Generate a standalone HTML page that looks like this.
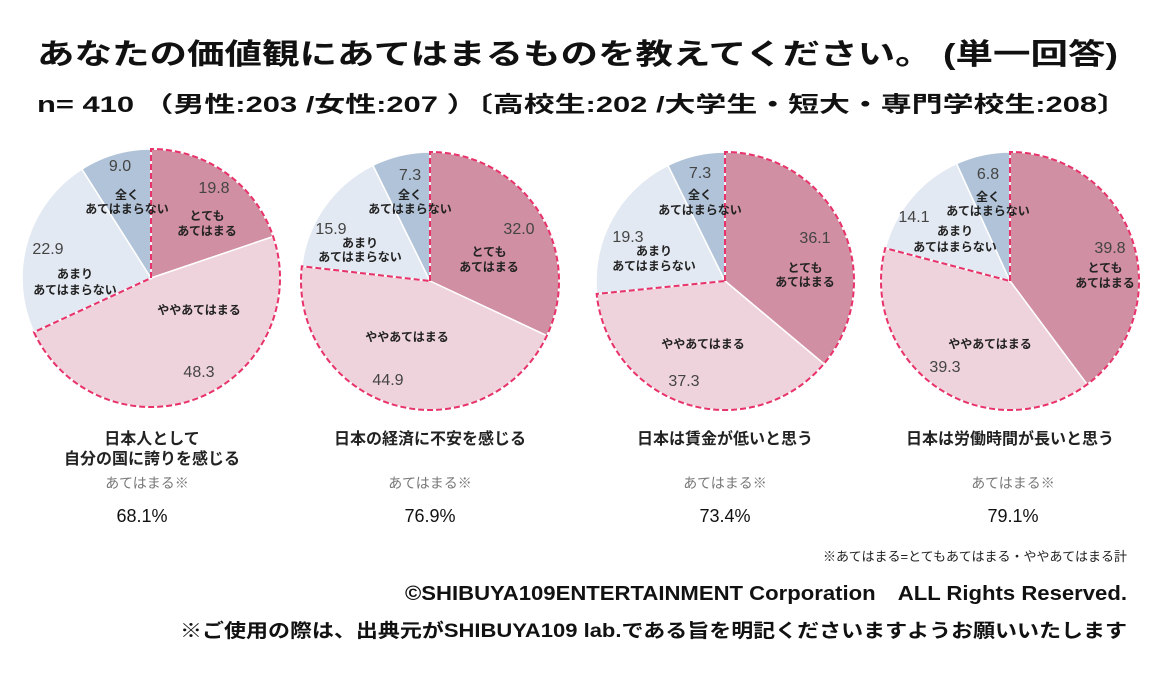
<!DOCTYPE html>
<html><head><meta charset="utf-8"><style>
body{margin:0;background:#fff}
svg text{font-family:"Liberation Sans","Noto Sans CJK JP",sans-serif}
</style></head><body>
<svg id="s" width="1160" height="690" xmlns="http://www.w3.org/2000/svg">
<rect width="1160" height="690" fill="#fff"/>
<text x="37" y="64" font-size="29" font-weight="bold" fill="#111" textLength="1081" lengthAdjust="spacingAndGlyphs">あなたの価値観にあてはまるものを教えてください。 (単一回答)</text>
<text x="37" y="112" font-size="22" font-weight="bold" fill="#111" textLength="1091" lengthAdjust="spacingAndGlyphs">n= 410 （男性:203 /女性:207 ）〔高校生:202 /大学生・短大・専門学校生:208〕</text>
<g id="pies"></g>
<g font-weight="bold" fill="#222" font-size="16" text-anchor="middle">
<text x="152" y="444">日本人として</text><text x="152" y="464">自分の国に誇りを感じる</text>
<text x="430" y="444">日本の経済に不安を感じる</text>
<text x="725" y="444">日本は賃金が低いと思う</text>
<text x="1010" y="444">日本は労働時間が長いと思う</text>
</g>
<g fill="#777" font-size="14" text-anchor="middle">
<text x="147" y="488">あてはまる※</text><text x="430" y="488">あてはまる※</text><text x="725" y="488">あてはまる※</text><text x="1013" y="488">あてはまる※</text>
</g>
<g fill="#111" font-size="18" text-anchor="middle">
<text x="142" y="522">68.1%</text><text x="430" y="522">76.9%</text><text x="725" y="522">73.4%</text><text x="1013" y="522">79.1%</text>
</g>
<text x="1127" y="561" font-size="13" fill="#222" text-anchor="end">※あてはまる=とてもあてはまる・ややあてはまる計</text>
<text x="1127" y="600" font-size="20" font-weight="bold" fill="#111" text-anchor="end" textLength="722" lengthAdjust="spacingAndGlyphs">©SHIBUYA109ENTERTAINMENT Corporation　ALL Rights Reserved.</text>
<text x="1127" y="637" font-size="19" font-weight="bold" fill="#111" text-anchor="end" textLength="947" lengthAdjust="spacingAndGlyphs">※ご使用の際は、出典元がSHIBUYA109 lab.である旨を明記くださいますようお願いいたします</text>
</svg>
<script>
var pies=[
 {cx:151,cy:278,v:[19.8,48.3,22.9,9.0],L:[[120,171,'9.0',1],[127,199,'全く',0],[127,213,'あてはまらない',0],[214,193,'19.8',1],[207,220,'とても',0],[207,235,'あてはまる',0],[48,254,'22.9',1],[75,278,'あまり',0],[75,294,'あてはまらない',0],[199,314,'ややあてはまる',0],[199,377,'48.3',1]]},
 {cx:430,cy:281,v:[32.0,44.9,15.9,7.3],L:[[410,180,'7.3',1],[410,199,'全く',0],[410,213,'あてはまらない',0],[519,234,'32.0',1],[489,256,'とても',0],[489,271,'あてはまる',0],[331,234,'15.9',1],[360,247,'あまり',0],[360,261,'あてはまらない',0],[407,341,'ややあてはまる',0],[388,385,'44.9',1]]},
 {cx:725,cy:281,v:[36.1,37.3,19.3,7.3],L:[[700,178,'7.3',1],[700,199,'全く',0],[700,214,'あてはまらない',0],[815,243,'36.1',1],[805,272,'とても',0],[805,286,'あてはまる',0],[628,242,'19.3',1],[654,255,'あまり',0],[654,270,'あてはまらない',0],[703,348,'ややあてはまる',0],[684,386,'37.3',1]]},
 {cx:1010,cy:281,v:[39.8,39.3,14.1,6.8],L:[[988,179,'6.8',1],[988,201,'全く',0],[988,215,'あてはまらない',0],[1110,253,'39.8',1],[1105,272,'とても',0],[1105,287,'あてはまる',0],[914,222,'14.1',1],[955,235,'あまり',0],[955,251,'あてはまらない',0],[990,348,'ややあてはまる',0],[945,372,'39.3',1]]}
];
var cols=['#d08fa2','#efd3dc','#e3e9f2','#b1c3d8'],R=129,h='';
function pt(cx,cy,a){return [cx+R*Math.sin(a),cy-R*Math.cos(a)];}
pies.forEach(function(p){
 var a=0,tot=p.v.reduce(function(s,x){return s+x},0),ang=[0];
 p.v.forEach(function(v,i){var b=a+v/tot*2*Math.PI;var s=pt(p.cx,p.cy,a),e=pt(p.cx,p.cy,b);
  h+='<path d="M'+p.cx+','+p.cy+'L'+s[0]+','+s[1]+'A'+R+','+R+' 0 '+((b-a)>Math.PI?1:0)+' 1 '+e[0]+','+e[1]+'Z" fill="'+cols[i]+'" stroke="#fff" stroke-width="1.5"/>';
  a=b;ang.push(b);});
 var b=ang[2],s=pt(p.cx,p.cy,0),e=pt(p.cx,p.cy,b);
 h+='<path d="M'+p.cx+','+p.cy+'L'+s[0]+','+s[1]+'A'+R+','+R+' 0 '+(b>Math.PI?1:0)+' 1 '+e[0]+','+e[1]+'Z" fill="none" stroke="#e8336a" stroke-width="2" stroke-dasharray="6,3"/>';
 p.L.forEach(function(l){h+= l[3]?'<text x="'+l[0]+'" y="'+l[1]+'" font-size="16" fill="#444" text-anchor="middle">'+l[2]+'</text>':'<text x="'+l[0]+'" y="'+l[1]+'" font-size="12" font-weight="bold" fill="#222" text-anchor="middle">'+l[2]+'</text>';});
});
document.getElementById('pies').innerHTML=h;
</script>
</body></html>
